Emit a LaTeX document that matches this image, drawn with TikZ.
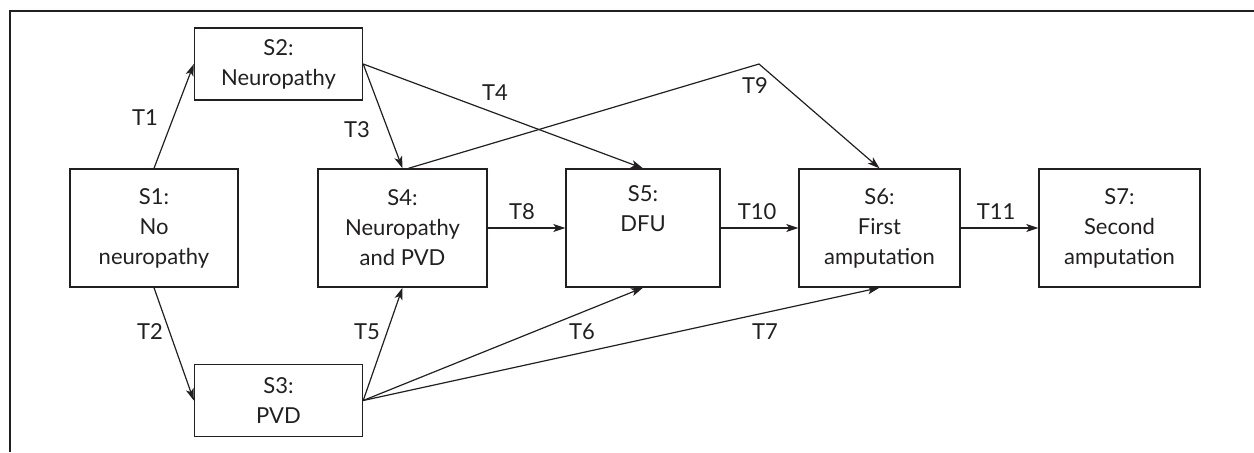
\documentclass[tikz,border=0pt]{standalone}
\usepackage{fontspec}
\setmainfont{Lato}
\usetikzlibrary{arrows.meta}

\definecolor{ink}{HTML}{231F20}

\begin{document}
\begin{tikzpicture}[>={Stealth[width=4pt,length=6pt,inset=1.5pt]}, line width=0.6pt, draw=ink,
  font=\fontsize{11}{15}\selectfont, text=ink,
  state/.style={draw=ink, line width=0.7pt, align=center, inner sep=0pt, minimum height=59pt},
  small/.style={state, minimum width=84pt, minimum height=36pt},
  tlabel/.style={inner sep=1pt}]
  \useasboundingbox (0pt, 0pt) rectangle (627pt, -226pt);
  % frame
  \draw[ink, line width=0.75pt] (5pt, -226pt) -- (5pt, -5.5pt) -- (627pt, -5.5pt);
  % states
  \draw (77.0pt, -114.0pt)node[state, minimum width=84pt](s1){S1:\\No\\neuropathy};
  \draw (139.25pt, -32.0pt)node[small](s2){S2:\\Neuropathy};
  \draw (139.25pt, -200.25pt)node[small](s3){S3:\\PVD};
  \draw (201.25pt, -114.0pt)node[state, minimum width=84.5pt](s4){S4:\\Neuropathy\\and PVD};
  \draw (321.5pt, -114.0pt)node[state, minimum width=77pt](s5){S5:\\DFU\\\strut};
  \draw (439.75pt, -114.0pt)node[state, minimum width=80.5pt](s6){S6:\\First\\amputation};
  \draw (559.75pt, -114.0pt)node[state, minimum width=80.5pt](s7){S7:\\Second\\amputation};
  \coordinate (bend) at (379.5pt, -32.0pt);
  % transitions
  \path[->] (s1.north) edge (s2.west);
  \path[->] (s1.south) edge (s3.west);
  \path[->] (s2.east) edge (s4.north);
  \path[->] (s2.east) edge (s5.north);
  \path[->] (s3.east) edge (s4.south);
  \path[->] (s3.east) edge (s5.south);
  \path[->] (s3.east) edge (s6.south);
  \path[->] (s4.east) edge (s5.west);
  \draw[->] ([xshift=3pt]s4.north) -- (bend) -- (s6.north);
  \path[->] (s5.east) edge (s6.west);
  \path[->] (s6.east) edge (s7.west);
  % labels
  \draw (72.5pt, -59.0pt)node[tlabel](t1){T1};
  \draw (75.0pt, -166.0pt)node[tlabel](t2){T2};
  \draw (178.5pt, -65.0pt)node[tlabel](t3){T3};
  \draw (247.5pt, -46.5pt)node[tlabel](t4){T4};
  \draw (183.5pt, -166.0pt)node[tlabel](t5){T5};
  \draw (291.0pt, -166.0pt)node[tlabel](t6){T6};
  \draw (382.5pt, -166.0pt)node[tlabel](t7){T7};
  \draw (261.0pt, -106.0pt)node[tlabel](t8){T8};
  \draw (377.5pt, -43.0pt)node[tlabel](t9){T9};
  \draw (378.5pt, -106.0pt)node[tlabel](t10){T10};
  \draw (498.0pt, -106.0pt)node[tlabel](t11){T11};
\end{tikzpicture}
\end{document}
